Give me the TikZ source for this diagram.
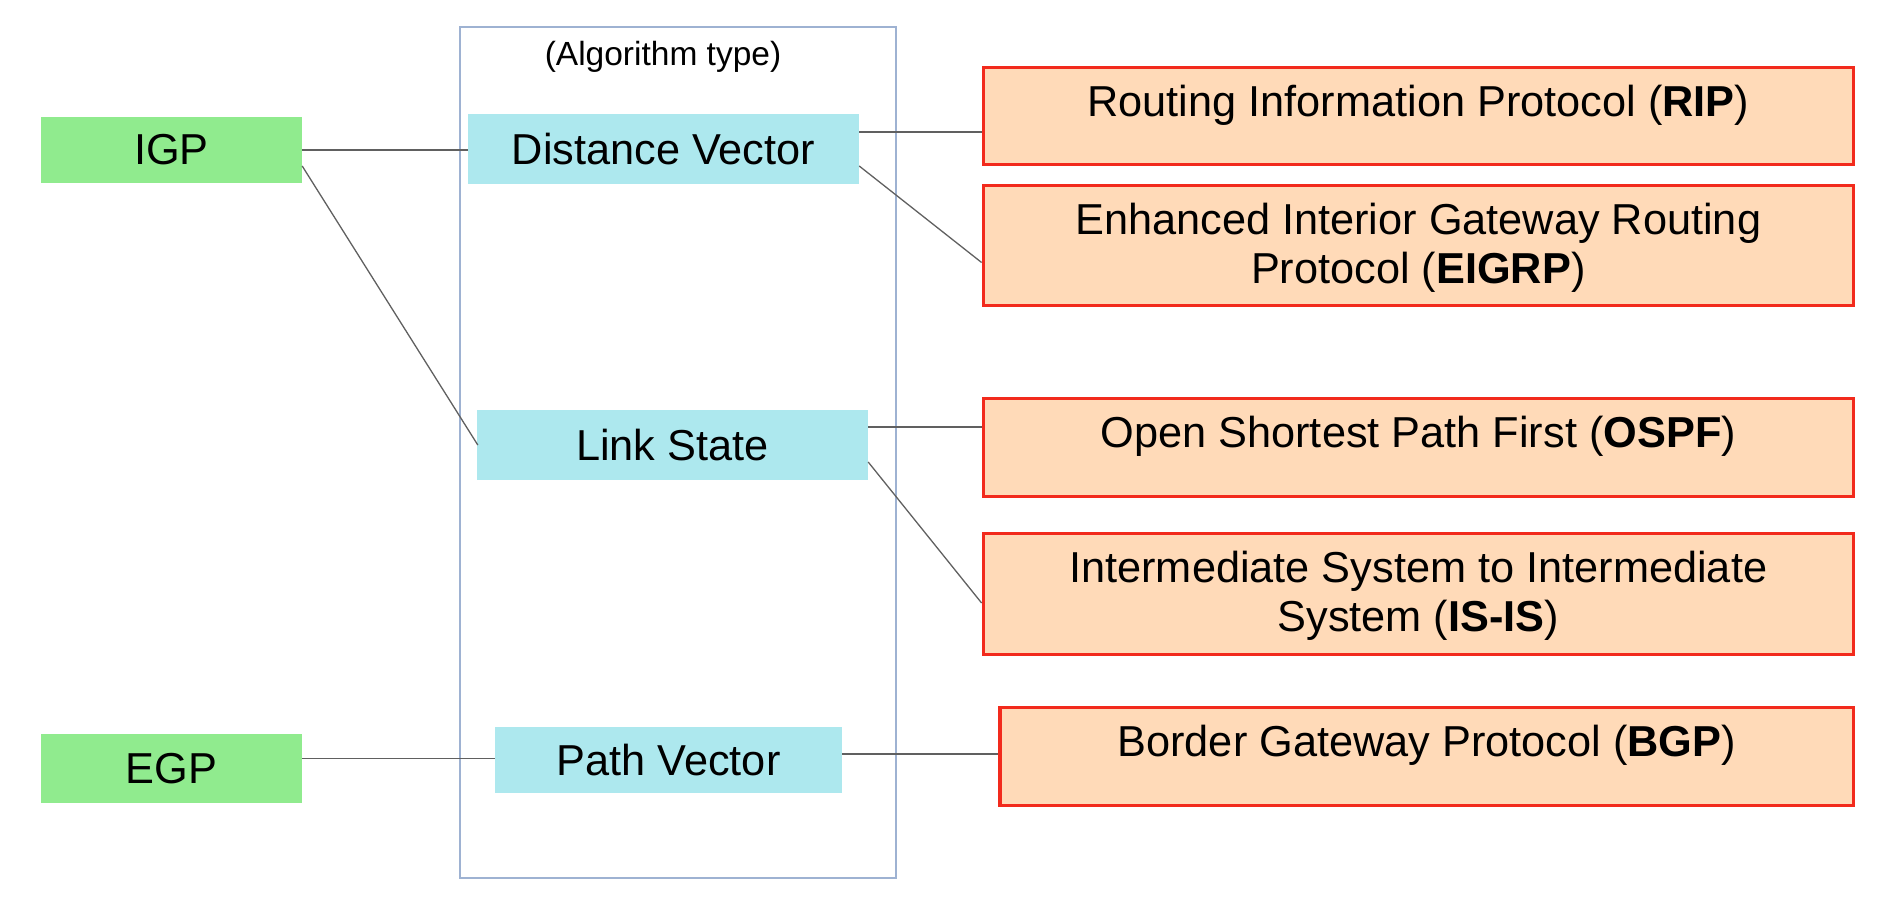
\documentclass[tikz,border=0pt]{standalone}
\usepackage{fontspec}
\setmainfont{Liberation Sans}
\definecolor{gfill}{HTML}{90EB8E}
\definecolor{cfill}{HTML}{ADE8EE}
\definecolor{ofill}{HTML}{FFDAB8}
\definecolor{ored}{HTML}{F22A1C}
\definecolor{lgrey}{HTML}{606060}
\definecolor{cblue}{HTML}{9EB2D2}
\tikzset{
  big/.style={font=\fontsize{43.3}{49}\selectfont},
  gbox/.style={rectangle, fill=gfill, inner sep=0pt, big},
  cbox/.style={rectangle, fill=cfill, inner sep=0pt, big},
  obox/.style={rectangle, draw=ored, line width=3.3pt, fill=ofill, inner sep=0pt,
               minimum width=870pt},
  otext/.style={align=center, inner sep=0pt, big},
  groupbox/.style={draw=cblue, line width=1.5pt},
  conn/.style={draw=lgrey, line width=1.3pt},
}
\begin{document}
\begin{tikzpicture}[x=1pt,y=-1pt]
\useasboundingbox (0,0) rectangle (1898,898);
% container
\node[groupbox, rectangle, minimum width=436pt, minimum height=851pt, inner sep=0pt] (grp) at (678,452.5) {};
\node[font=\fontsize{33.5}{38}\selectfont, inner sep=0pt] (alg) at (663,57) {(Algorithm type)};
% left boxes
\node[gbox, minimum width=261pt, minimum height=66pt] (igp) at (171.5,150) {IGP};
\node[gbox, minimum width=261pt, minimum height=69pt] (egp) at (171.5,768.5) {EGP};
% middle boxes
\node[cbox, minimum width=391pt, minimum height=70pt] (dv) at (663.5,149) {Distance Vector};
\node[cbox, minimum width=391pt, minimum height=70pt] (ls) at (672.5,445) {Link State};
\node[cbox, minimum width=347pt, minimum height=66pt] (pv) at (668.5,760) {Path Vector};
% right boxes
\node[obox, minimum height=97pt] (rip) at (1418.25,116) {};
\node[otext] (riptxt) at (1418.25,105) {Routing Information Protocol (\textbf{RIP})};
\node[obox, minimum height=120pt] (eigrp) at (1418.25,245.5) {};
\node[otext] (eigrptxt) at (1418.25,248) {Enhanced Interior Gateway Routing\\Protocol (\textbf{EIGRP})};
\node[obox, minimum height=98pt] (ospf) at (1418.25,447.5) {};
\node[otext] (ospftxt) at (1418.25,436) {Open Shortest Path First (\textbf{OSPF})};
\node[obox, minimum height=121pt] (isis) at (1418.25,594) {};
\node[otext] (isistxt) at (1418.25,596) {Intermediate System to Intermediate\\System (\textbf{IS-IS})};
\node[obox, minimum width=853.5pt, minimum height=98pt] (bgp) at (1426.75,756.5) {};
\node[otext] (bgptxt) at (1426.75,745) {Border Gateway Protocol (\textbf{BGP})};
% connectors
\draw[conn] (igp.east) -- (igp.east -| dv.west);
\draw[conn] ([yshift=-16pt]igp.east) -- ([xshift=1pt]ls.west);
\draw[conn] ([yshift=17pt]dv.east) coordinate (dva) -- (dva -| rip.west);
\draw[conn] ([yshift=-17pt]dv.east) -- ([yshift=-17pt]eigrp.west);
\draw[conn] ([yshift=18pt]ls.east) coordinate (lsa) -- (lsa -| ospf.west);
\draw[conn] ([yshift=-17pt]ls.east) -- ([yshift=-9pt]isis.west);
\draw[conn] ([yshift=10pt]egp.east) coordinate (egpa) -- (egpa -| pv.west);
\draw[conn] ([yshift=6pt]pv.east) coordinate (pva) -- (pva -| bgp.west);
\end{tikzpicture}
\end{document}
